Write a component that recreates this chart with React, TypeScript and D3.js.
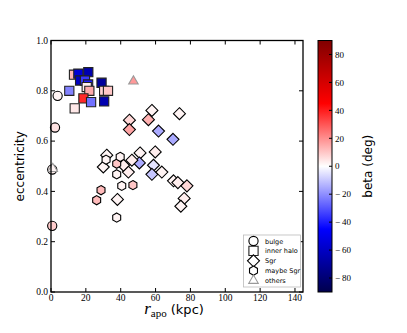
import React from 'react';
import * as d3 from 'd3';

const width = 407;
const height = 333;
const margin = { top: 40.5, right: 104, bottom: 41, left: 51 };

// bulge (circles)
const bulgeRapo = [3.8, 2.3, 0.7, 0.7];
const bulgeEcc = [0.78, 0.654, 0.487, 0.263];
const bulgeBeta = [2, 5, 3, 9];

// inner halo (squares)
const haloRapo = [13.2, 15.7, 21.4, 16.7, 19.5, 21.3, 20.5, 22, 18.6, 23, 29, 30.5, 32.7, 30.5, 10.5, 13.6];
const haloEcc = [0.864, 0.868, 0.874, 0.841, 0.841, 0.825, 0.815, 0.8, 0.77, 0.755, 0.832, 0.8, 0.8, 0.758, 0.8, 0.73];
const haloBeta = [13, -55, -65, -60, -35, -40, 3, 15, 38, -25, -70, 8, 10, -65, -22, 4];

// Sgr (diamonds)
const sgrRapo = [57.9, 55.9, 45, 45, 73.7, 61.7, 70, 51.1, 59.8, 50.7, 58.8, 57.9, 63.6, 70.3, 72.8, 78, 76.4, 74.5, 32, 30, 38.1, 44.4, 41.6, 46.4];
const sgrEcc = [0.722, 0.685, 0.683, 0.646, 0.709, 0.64, 0.607, 0.553, 0.557, 0.513, 0.504, 0.468, 0.477, 0.442, 0.435, 0.422, 0.372, 0.341, 0.544, 0.497, 0.368, 0.477, 0.504, 0.524];
const sgrBeta = [2, 14, 7, 16, 2, -15, -15, 2, 3, -15, -5, -10, 2, 2, 3, 7, 3, 2, 2, 2, 2, 3, 3, 3];

// maybe Sgr (hexagons)
const maybeRapo = [31.6, 37.7, 39.7, 37.7, 40.6, 47, 28.7, 26.2, 37.7];
const maybeEcc = [0.526, 0.51, 0.537, 0.468, 0.422, 0.425, 0.405, 0.365, 0.296];
const maybeBeta = [2, 10, 2, 2, 2, 10, 12, 12, 2];

// others (triangles)
const otherRapo = [47.3, 1];
const otherEcc = [0.838, 0.49];
const otherBeta = [18, 2];

const xTicks = [0, 20, 40, 60, 80, 100, 120, 140];
const yTicks = [0, 0.2, 0.4, 0.6, 0.8, 1.0];
const cTicks = [-80, -60, -40, -20, 0, 20, 40, 60, 80];
const legendLabels = ['bulge', 'inner halo', 'Sgr', 'maybe Sgr', 'others'];

const x = d3.scaleLinear().domain([0, 144.6]).range([margin.left, 303]);
const y = d3.scaleLinear().domain([0, 1]).range([height - margin.bottom, margin.top]);

// matplotlib "seismic"
const seismic = d3.scaleLinear<string>()
  .domain([0, 0.25, 0.5, 0.75, 1])
  .range(['rgb(0,0,77)', 'rgb(0,0,255)', 'rgb(255,255,255)', 'rgb(255,0,0)', 'rgb(128,0,0)'])
  .clamp(true);
const betaNorm = d3.scaleLinear().domain([-90, 90]).range([0, 1]);
const color = (b: number) => seismic(betaNorm(b));

const circlePath = (r: number) => `M${r},0A${r},${r} 0 1,1 ${-r},0A${r},${r} 0 1,1 ${r},0Z`;
const squarePath = (s: number) => `M${-s},${-s}H${s}V${s}H${-s}Z`;
const diamondPath = (s: number) => `M0,${-s}L${s},0L0,${s}L${-s},0Z`;
const polyPath = (n: number, r: number, rot: number) =>
  d3.range(n).map(i => {
    const a = rot + (i * 2 * Math.PI) / n;
    return `${i ? 'L' : 'M'}${(r * Math.cos(a)).toFixed(2)},${(r * Math.sin(a)).toFixed(2)}`;
  }).join('') + 'Z';
const hexPath = polyPath(6, 4.6, -Math.PI / 2);
const triPath = polyPath(3, 5.5, -Math.PI / 2);

const groups = [
  { rapo: bulgeRapo, ecc: bulgeEcc, beta: bulgeBeta, path: circlePath(4.6), stroke: '#000' },
  { rapo: haloRapo, ecc: haloEcc, beta: haloBeta, path: squarePath(4.6), stroke: '#222' },
  { rapo: sgrRapo, ecc: sgrEcc, beta: sgrBeta, path: diamondPath(6), stroke: '#000' },
  { rapo: maybeRapo, ecc: maybeEcc, beta: maybeBeta, path: hexPath, stroke: '#000' },
  { rapo: otherRapo, ecc: otherEcc, beta: otherBeta, path: triPath, stroke: '#999' },
];

const serif = '"Liberation Serif", "DejaVu Serif", serif';
const sans = '"DejaVu Sans", sans-serif';

const cbX = 318;
const cbW = 14;
const cScale = d3.scaleLinear().domain([-90, 90]).range([height - margin.bottom, margin.top]);

export default function App() {
  const x0 = x.range()[0];
  const x1 = x.range()[1];
  const y0 = y.range()[0];
  const y1 = y.range()[1];
  return (
    <svg width={width} height={height} style={{ position: 'absolute', left: 0, top: 0, background: '#fff' }}>
      <defs>
        <linearGradient id="seis" x1="0" y1="1" x2="0" y2="0">
          {d3.range(0, 1.0001, 0.125).map(t => (
            <stop key={t} offset={t} stopColor={seismic(t)} />
          ))}
        </linearGradient>
      </defs>
      <rect width={width} height={height} fill="#fff" />

      {groups.map((g, gi) => (
        <g key={gi}>
          {g.rapo.map((r, i) => (
            <path key={i} d={g.path} transform={`translate(${x(r)},${y(g.ecc[i])})`}
              fill={color(g.beta[i])} stroke={g.stroke} strokeWidth={1.1} />
          ))}
        </g>
      ))}

      {/* frame and ticks */}
      <rect x={x0} y={y1} width={x1 - x0} height={y0 - y1} fill="none" stroke="#000" strokeWidth={1.3} />
      {xTicks.map(t => (
        <g key={t}>
          <line x1={x(t)} x2={x(t)} y1={y0} y2={y0 - 4} stroke="#000" />
          <line x1={x(t)} x2={x(t)} y1={y1} y2={y1 + 4} stroke="#000" />
          <text x={x(t)} y={y0 + 8.5} textAnchor="middle" fontFamily={serif} fontSize={9.5}>{t}</text>
        </g>
      ))}
      {yTicks.map(t => (
        <g key={t}>
          <line x1={x0} x2={x0 + 4} y1={y(t)} y2={y(t)} stroke="#000" />
          <line x1={x1} x2={x1 - 4} y1={y(t)} y2={y(t)} stroke="#000" />
          <text x={x0 - 3} y={y(t) + 3.2} textAnchor="end" fontFamily={serif} fontSize={9.5}>{t.toFixed(1)}</text>
        </g>
      ))}

      <text transform={`translate(24,${(y0 + y1) / 2}) rotate(-90)`} textAnchor="middle" fontFamily={sans} fontSize={12}>eccentricity</text>
      <text x={174} y={314} textAnchor="middle">
        <tspan fontFamily={serif} fontStyle="italic" fontSize={17}>r</tspan>
        <tspan fontFamily={serif} fontSize={11} dy={2.5}>apo</tspan>
        <tspan fontFamily={sans} fontSize={13} dy={-2.5}> (kpc)</tspan>
      </text>

      {/* legend */}
      <rect x={243.5} y={235} width={57} height={52} fill="#fff" stroke="#bbb" strokeWidth={0.8} />
      {legendLabels.map((l, i) => (
        <g key={l} transform={`translate(0,${241 + i * 9.9})`}>
          <path d={groups[i].path} transform="translate(253.5,0)" fill="#fff" stroke={groups[i].stroke} strokeWidth={1.1} />
          <text x={265} y={2.5} fontFamily={sans} fontSize={6.5}>{l}</text>
        </g>
      ))}

      {/* colorbar */}
      <rect x={cbX} y={margin.top} width={cbW} height={y0 - y1} fill="url(#seis)" stroke="#000" strokeWidth={1} />
      {cTicks.map(t => (
        <g key={t}>
          <line x1={cbX + cbW} x2={cbX + cbW - 3} y1={cScale(t)} y2={cScale(t)} stroke="#000" />
          <text x={cbX + cbW + 3} y={cScale(t) + 3.2} fontFamily={serif} fontSize={9}>
            {t < 0 ? `\u2212\u2009${-t}` : t}
          </text>
        </g>
      ))}
      <text transform={`translate(372,${(y0 + y1) / 2}) rotate(-90)`} textAnchor="middle" fontFamily={sans} fontSize={12}>beta (deg)</text>
    </svg>
  );
}
